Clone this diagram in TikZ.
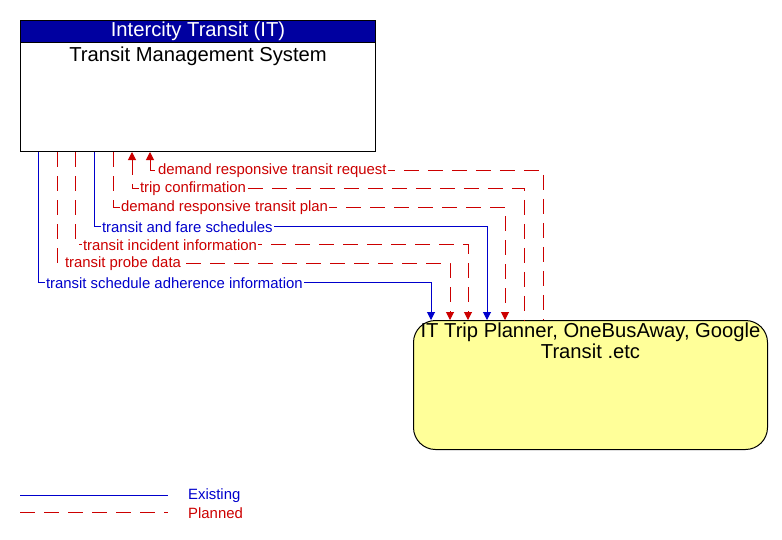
\documentclass[tikz,border=0pt]{standalone}
\usepackage{fontspec}
\setmainfont{Liberation Sans}
\usetikzlibrary{arrows.meta}
\definecolor{exblue}{HTML}{0000CC}
\definecolor{plred}{HTML}{CC0000}
\definecolor{hdrblue}{HTML}{0000A0}
\definecolor{extyel}{HTML}{FFFF99}
\tikzset{
  existing/.style={draw=exblue, line width=1pt},
  planned/.style={draw=plred, line width=1pt, dash pattern=on 15pt off 9pt},
  tip/.style={-{Triangle[width=8pt,length=8pt]}},
  rtip/.style={{Triangle[width=8pt,length=8pt]}-},
  lbl/.style={font=\fontsize{14.9}{16}\selectfont, fill=white, inner sep=1pt, anchor=west, xshift=6.5pt, yshift=-1pt},
  bigtxt/.style={font=\fontsize{20.2}{22}\selectfont},
}
\newcommand\myflow[6]{%
  \draw[#1] ([xshift=#2pt]tms.south west) |- node[lbl,text=#6,pos=0.5]{#5} ([xshift=#3pt]ext.north west |- 0,#4) -- ([xshift=#3pt]ext.north west);}
\begin{document}
\begin{tikzpicture}[x=1pt,y=-1pt]
\useasboundingbox (0,0) rectangle (782,539);
% Transit Management System
\node[draw=black, line width=1pt, minimum width=355pt, minimum height=131pt, anchor=north west, inner sep=0pt] (tms) at (20,20) {};
\node[draw=black, line width=1pt, fill=hdrblue, minimum width=355pt, minimum height=22pt, anchor=north west, inner sep=0pt, text=white, bigtxt] (tmshdr) at (20,20) {Intercity Transit (IT)};
\node[bigtxt, anchor=north, inner sep=0pt] (tmstxt) at ([yshift=-3.5pt]tmshdr.south) {Transit Management System};
% External
\node[draw=black, line width=1pt, fill=extyel, rounded corners=22pt, minimum width=354pt, minimum height=129pt, anchor=north west, inner sep=0pt] (ext) at (413,320) {};
\node[bigtxt, anchor=north, align=center, inner sep=0pt, text depth=0pt] (exttxt) at ([yshift=-3pt]ext.north) {IT Trip Planner, OneBusAway, Google\\[-1pt]Transit .etc};
% flows
\myflow{existing,tip}{18}{18}{282}{transit schedule adherence information}{exblue}
\myflow{planned,tip}{37}{37}{263}{transit probe data}{plred}
\myflow{planned,tip}{55}{55}{244}{transit incident information}{plred}
\myflow{existing,tip}{74}{74}{226}{transit and fare schedules}{exblue}
\myflow{planned,tip}{93}{92}{207}{demand responsive transit plan}{plred}
\myflow{planned,rtip}{112}{111}{188}{trip confirmation}{plred}
\myflow{planned,rtip}{130}{130}{170}{demand responsive transit request}{plred}
% legend
\coordinate (l1a) at (20,495); \coordinate (l1b) at (168,495);
\coordinate (l2a) at (20,512); \coordinate (l2b) at (168,512);
\draw[existing] (l1a) -- (l1b);
\draw[planned] (l2a) -- (l2b);
\node[anchor=west, inner sep=0pt, text=exblue, font=\fontsize{14.9}{16}\selectfont] (lgex) at (188,496) {Existing};
\node[anchor=west, inner sep=0pt, text=plred, font=\fontsize{14.9}{16}\selectfont] (lgpl) at (188,513) {Planned};
\end{tikzpicture}
\end{document}
